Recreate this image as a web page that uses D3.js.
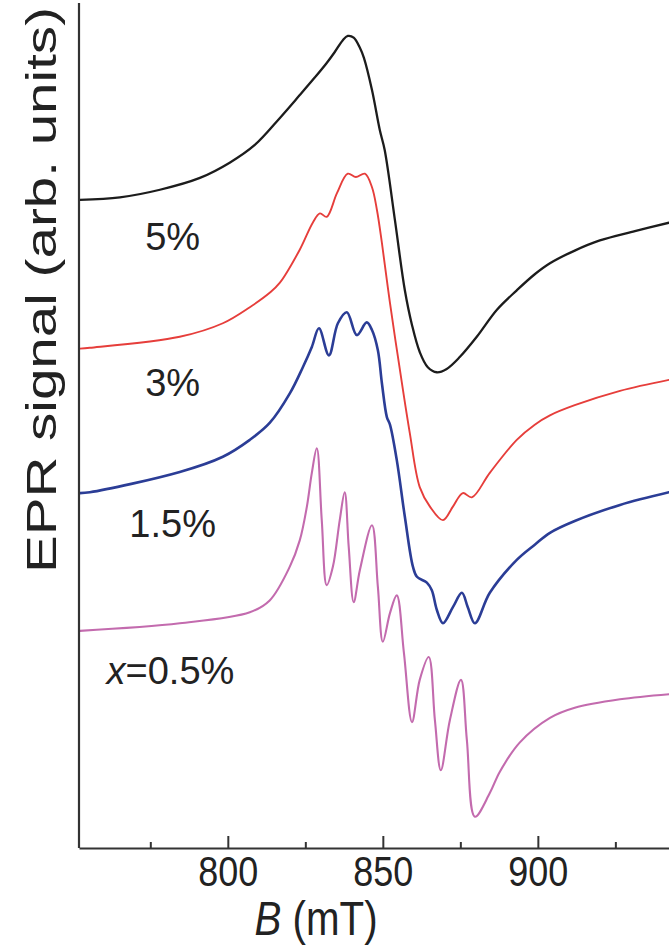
<!DOCTYPE html>
<html>
<head>
<meta charset="utf-8">
<script src="https://cdn.jsdelivr.net/npm/d3@7"></script>
<style>
  html, body { margin: 0; padding: 0; background: #fff; }
  svg { display: block; }
  text { font-family: "Liberation Sans", Arial, Helvetica, sans-serif; fill: #222; }
</style>
</head>
<body>
<svg id="chart" width="669" height="946"></svg>
<script>
// ---- data (field in mT, signal in arbitrary units, vertically offset traces) ----
const field5  = [752.3,765.2,778.1,791.0,800.6,808.7,816.8,823.2,828.1,831.9,834.5,837.1,838.7,840.6,842.6,843.9,846.5,849.0,850.6,853.9,857.1,859.4,861.9,864.5,867.4,870.6,874.8,880.3,886.8,893.2,899.0,903.9,911.9,920.0,931.3,942.3];
const signal5 = [76.7,77.0,77.9,79.3,81.1,83.2,86.4,89.1,91.2,92.9,94.2,95.6,96.1,95.9,94.7,93.5,89.7,85.0,82.6,74.3,66.0,61.9,58.7,56.9,56.3,56.7,58.1,60.5,63.7,66.0,67.9,69.2,70.7,71.9,73.0,74.0];

const field3  = [752.3,755.5,784.5,798.4,807.1,813.5,816.8,823.2,827.4,829.7,831.9,835.2,838.7,841.3,844.2,846.5,848.1,849.7,852.3,855.5,858.7,861.9,865.2,869.4,872.6,875.8,878.7,884.5,893.2,899.0,903.9,911.9,926.5,942.3];
const signal3 = [59.1,59.2,60.5,62.1,64.0,65.7,66.9,70.8,74.0,75.1,74.7,77.5,79.8,79.4,79.8,78.2,75.5,71.6,64.5,56.6,49.1,42.7,40.4,38.8,40.4,42.0,41.5,44.4,48.3,50.1,51.2,52.4,54.1,55.4];

const field15  = [752.3,755.5,784.5,798.4,807.1,813.5,820.0,824.2,827.1,829.4,832.6,835.5,838.4,841.6,844.8,846.5,848.4,849.7,851.3,852.3,854.5,857.1,859.7,861.0,864.2,865.8,867.4,869.4,872.6,875.5,877.4,879.7,884.5,893.2,899.0,903.9,911.9,926.5,942.3];
const signal15 = [42.0,42.1,44.5,46.3,48.3,50.3,53.8,56.9,59.3,61.5,58.3,62.1,63.4,60.7,62.2,61.3,58.9,55.0,51.0,50.1,45.9,39.2,33.3,32.1,31.4,30.5,28.2,26.6,28.5,30.2,28.5,26.6,30.2,34.1,35.9,37.3,38.7,40.6,42.1];

const field05  = [752.3,784.5,807.1,813.5,820.0,823.2,825.5,827.1,828.7,830.3,831.9,833.9,836.1,837.7,839.0,840.6,842.6,846.5,848.4,850.0,852.3,854.5,856.8,859.4,861.9,864.8,866.8,868.7,871.6,875.2,877.1,879.7,884.5,887.7,894.2,903.9,911.9,926.5,942.3];
const signal05 = [25.7,26.6,27.9,29.3,33.3,36.4,40.4,44.4,47.3,38.8,31.1,33.3,38.8,42.1,35.6,29.1,32.9,38.2,30.9,24.4,27.8,29.9,23.1,14.9,19.9,22.6,15.1,9.2,15.1,19.9,12.8,3.7,6.5,9.0,12.5,15.4,16.6,17.6,18.2];

const seriesLabels = ["5%", "3%", "1.5%", "0.5%"];
const labelField   = [782.2, 782.2, 782.2, 781.5];
const labelSignal  = [70.8, 53.5, 36.8, 19.4];

const xTicks = [800, 850, 900];
const xMinorTicks = [775, 825, 875, 925];
const xTitle = "(mT)";
const xTitleVar = "B";
const yTitle = "EPR signal (arb. units)";

// ---- layout ----
const svg = d3.select("#chart");
const plotLeft = 79, plotRight = 669, plotTop = 3, plotBottom = 848;

const x = d3.scaleLinear().domain([752, 942.3]).range([plotLeft, plotRight]);
const y = d3.scaleLinear().domain([0, 100]).range([plotBottom, plotTop]);

const series = [
  { f: field5,  s: signal5,  color: "#1c1c1c", w: 2.3 },
  { f: field3,  s: signal3,  color: "#e63e3b", w: 1.9 },
  { f: field15, s: signal15, color: "#2b3d96", w: 2.6 },
  { f: field05, s: signal05, color: "#c36bae", w: 2.1 }
];

const line = d3.line()
  .x(d => x(d[0]))
  .y(d => y(d[1]))
  .curve(d3.curveCatmullRom.alpha(0.5));

series.forEach(sr => {
  const pts = sr.f.map((v, i) => [v, sr.s[i]]);
  svg.append("path")
    .attr("d", line(pts))
    .attr("fill", "none")
    .attr("stroke", sr.color)
    .attr("stroke-width", sr.w)
    .attr("stroke-linejoin", "round")
    .attr("stroke-linecap", "round");
});

// ---- axes ----
const axisColor = "#333";
svg.append("line")
  .attr("x1", plotLeft).attr("x2", plotLeft)
  .attr("y1", plotTop).attr("y2", plotBottom)
  .attr("stroke", axisColor).attr("stroke-width", 2.2);

const gx = svg.append("g").attr("transform", `translate(0,${plotBottom})`);
gx.call(d3.axisBottom(x).tickValues(xTicks).tickSize(-12).tickSizeOuter(0).tickPadding(8).tickFormat(d3.format("d")));
gx.select(".domain").attr("stroke", axisColor).attr("stroke-width", 2.2);
gx.selectAll(".tick line").attr("stroke", axisColor).attr("stroke-width", 2);
gx.selectAll(".tick text")
  .attr("font-size", 42)
  .attr("font-family", "Liberation Sans, Arial, sans-serif")
  .attr("fill", "#222")
  .attr("textLength", 60)
  .attr("lengthAdjust", "spacingAndGlyphs");

const gm = svg.append("g").attr("transform", `translate(0,${plotBottom})`);
gm.call(d3.axisBottom(x).tickValues(xMinorTicks).tickSize(-6).tickSizeOuter(0).tickFormat(""));
gm.select(".domain").remove();
gm.selectAll(".tick line").attr("stroke", axisColor).attr("stroke-width", 2);

// x title
const xt = svg.append("text")
  .attr("transform", `translate(316,935) scale(0.84,1)`)
  .attr("text-anchor", "middle")
  .attr("font-size", 48);
xt.append("tspan").attr("font-style", "italic").text(xTitleVar);
xt.append("tspan").text(" " + xTitle);

// y title
svg.append("text")
  .attr("transform", "translate(56,290) rotate(-90)")
  .attr("text-anchor", "middle")
  .attr("font-size", 42)
  .attr("textLength", 566)
  .attr("lengthAdjust", "spacingAndGlyphs")
  .text(yTitle);

// series labels
seriesLabels.forEach((t, i) => {
  const tx = svg.append("text")
    .attr("x", x(labelField[i]))
    .attr("y", y(labelSignal[i]))
    .attr("text-anchor", "middle")
    .attr("font-size", 38);
  if (i === seriesLabels.length - 1) {
    tx.append("tspan").attr("font-style", "italic").text("x");
    tx.append("tspan").text("=" + t);
  } else {
    tx.text(t);
  }
});
</script>
</body>
</html>
